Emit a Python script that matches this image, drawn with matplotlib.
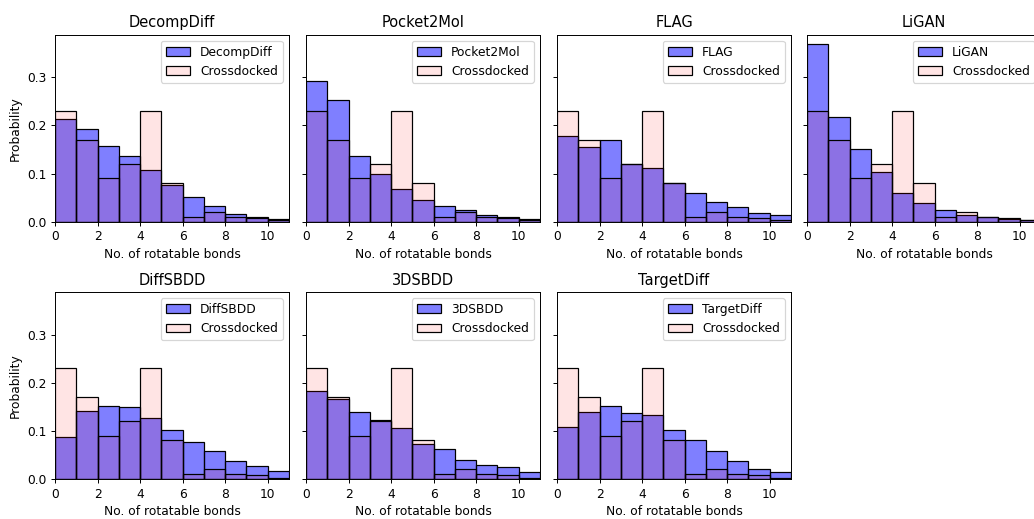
import numpy as np
import matplotlib.pyplot as plt

# bin edges 0..11, one bin per number of rotatable bonds
bin_edges = np.arange(0, 12)

crossdocked = [0.230, 0.170, 0.090, 0.120, 0.230, 0.080, 0.010, 0.020, 0.010, 0.008, 0.003]

models = ['DecompDiff', 'Pocket2Mol', 'FLAG', 'LiGAN', 'DiffSBDD', '3DSBDD', 'TargetDiff']

decompdiff = [0.213, 0.192, 0.157, 0.136, 0.107, 0.076, 0.051, 0.033, 0.017, 0.010, 0.0055]
pocket2mol = [0.292, 0.252, 0.136, 0.100, 0.067, 0.046, 0.033, 0.025, 0.014, 0.0097, 0.006]
flag = [0.179, 0.155, 0.169, 0.119, 0.111, 0.081, 0.059, 0.042, 0.030, 0.019, 0.013]
ligan = [0.370, 0.218, 0.152, 0.103, 0.060, 0.039, 0.024, 0.014, 0.0097, 0.0055, 0.004]
diffsbdd = [0.087, 0.142, 0.152, 0.150, 0.127, 0.101, 0.076, 0.058, 0.038, 0.026, 0.016]
sbdd3d = [0.183, 0.167, 0.139, 0.123, 0.105, 0.072, 0.063, 0.040, 0.030, 0.024, 0.014]
targetdiff = [0.109, 0.139, 0.152, 0.137, 0.132, 0.101, 0.082, 0.058, 0.037, 0.021, 0.014]

model_values = [decompdiff, pocket2mol, flag, ligan, diffsbdd, sbdd3d, targetdiff]

# rendered at 88 dpi so text/lines come out a bit smaller, like the original
fig = plt.figure(figsize=(1034 / 88, 519 / 88), dpi=88)

col_left = [0.0532, 0.2959, 0.5387, 0.7805]
row_bottom = [0.5728, 0.0771]
w, h = 0.2263, 0.3603

axes = []
for i, (name, vals) in enumerate(zip(models, model_values)):
    r, c = divmod(i, 4)
    ax = fig.add_axes([col_left[c], row_bottom[r], w, h],
                      sharey=axes[0] if axes else None)
    axes.append(ax)

    ax.bar(bin_edges[:-1], vals, width=np.diff(bin_edges), align='edge',
           facecolor=(0, 0, 1, 0.5), edgecolor='black', linewidth=1,
           label=name)
    ax.bar(bin_edges[:-1], crossdocked, width=np.diff(bin_edges), align='edge',
           facecolor=(1, 0, 0, 0.106), edgecolor='black', linewidth=1,
           label='Crossdocked')

    ax.set_xlim(0, 11)
    ax.set_xticks([0, 2, 4, 6, 8, 10])
    ax.set_title(name)
    ax.set_xlabel('No. of rotatable bonds')
    ax.legend(loc='upper right')
    if c == 0:
        ax.set_ylabel('Probability')
    else:
        ax.tick_params(labelleft=False)

axes[0].set_yticks([0.0, 0.1, 0.2, 0.3])

fig.savefig('out.png', dpi=88)
